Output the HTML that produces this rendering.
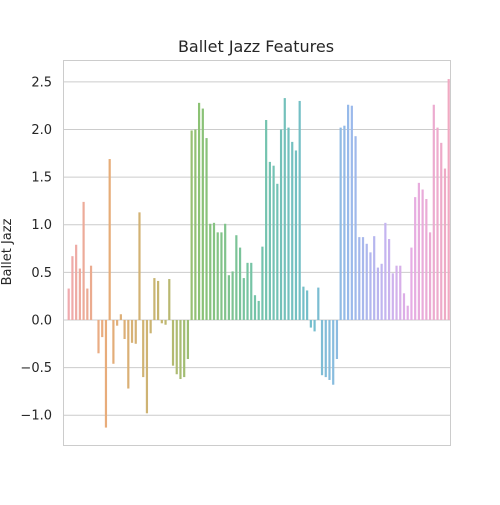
<!DOCTYPE html>
<html><head><meta charset="utf-8"><style>
body{margin:0;background:#fff;font-family:"Liberation Sans","DejaVu Sans",sans-serif}
</style></head><body>
<svg id="chart" width="500" height="500" xmlns="http://www.w3.org/2000/svg">
<rect width="500" height="500" fill="#fff"/>
<text x="256" y="52" text-anchor="middle" font-size="16" fill="#262626" font-family="DejaVu Sans, sans-serif">Ballet Jazz Features</text>
<text transform="translate(11,252) rotate(-90)" text-anchor="middle" font-size="13" fill="#262626" font-family="DejaVu Sans, sans-serif">Ballet Jazz</text>
<g id="grid"></g><g id="bars"></g><g id="yticks"></g>
<rect x="63.5" y="60.5" width="387" height="385" fill="none" stroke="#cccccc"/>
</svg>
<script>
const values = [0.33,0.67,0.79,0.54,1.24,0.33,0.57,0,-0.35,-0.18,-1.13,1.69,-0.46,-0.06,0.06,-0.2,-0.72,-0.24,-0.25,1.13,-0.6,-0.98,-0.14,0.44,0.41,-0.035,-0.05,0.43,-0.48,-0.57,-0.62,-0.6,-0.41,1.99,
2.0,2.28,2.22,1.91,1.01,1.02,0.92,0.92,1.01,0.47,0.51,0.89,0.76,0.44,0.6,0.6,0.26,0.2,0.77,2.1,1.66,1.62,1.43,2.0,2.33,2.02,1.87,1.78,2.3,0.35,0.31,-0.08,-0.12,0.34,-0.58,
-0.6,-0.63,-0.68,-0.41,2.02,2.04,2.26,2.25,1.93,0.87,0.87,0.8,0.71,0.88,0.55,0.59,1.02,0.85,0.49,0.57,0.57,0.28,0.15,0.76,1.29,1.44,1.37,1.27,0.92,2.26,2.02,1.86,1.59,2.53];
const categories = values.map((v,i)=>'item-'+i);
const yTicks = [-1.0,-0.5,0.0,0.5,1.0,1.5,2.0,2.5];
const yMin=-1.313, yMax=2.73, L=63, R=450, T=60, B=445;
const y = v => B - (v - yMin)/(yMax - yMin)*(B - T);
const x0=68.7, x1=448.7;
const x = i => x0 + (x1-x0)*i/(categories.length-1);
const ns="http://www.w3.org/2000/svg";
const anchors=[[0,[240,170,174]],[10,[232,172,122]],[25,[196,182,112]],[35,[140,194,116]],[50,[116,196,168]],[65,[116,190,204]],[75,[150,186,234]],[85,[196,180,240]],[92,[230,172,228]],[102,[240,170,194]]];
function col(i){let t=i*102/(categories.length-1);for(let k=0;k<anchors.length-1;k++){const[a,ca]=anchors[k],[b,cb]=anchors[k+1];if(t<=b){const f=(t-a)/(b-a);return 'rgb('+ca.map((c,j)=>Math.round(c+(cb[j]-c)*f)).join(',')+')';}}return 'rgb(240,170,194)';}
const grid=document.getElementById('grid'),yt=document.getElementById('yticks'),bars=document.getElementById('bars');
yTicks.forEach(t=>{
  const l=document.createElementNS(ns,'line');
  l.setAttribute('x1',L);l.setAttribute('x2',R);l.setAttribute('y1',y(t));l.setAttribute('y2',y(t));
  l.setAttribute('stroke','#cccccc');l.setAttribute('stroke-width','1');
  
  
  grid.appendChild(l);
  const tx=document.createElementNS(ns,'text');
  tx.setAttribute('x',52);tx.setAttribute('y',y(t)+4.5);tx.setAttribute('text-anchor','end');
  tx.setAttribute('font-size','13');tx.setAttribute('fill','#262626');tx.setAttribute('font-family','DejaVu Sans, sans-serif');
  tx.textContent=t.toFixed(1).replace('-','\u2212');
  
  
  yt.appendChild(tx);
});
const bw=2.2;
values.forEach((v,i)=>{
  const r=document.createElementNS(ns,'rect');
  const y0=y(0),y1=y(v);
  r.setAttribute('x',x(i)-bw/2);r.setAttribute('width',bw);
  r.setAttribute('y',Math.min(y0,y1));r.setAttribute('height',Math.abs(y1-y0));
  r.setAttribute('fill',col(i));
  
  
  bars.appendChild(r);
});
</script>
</body></html>
